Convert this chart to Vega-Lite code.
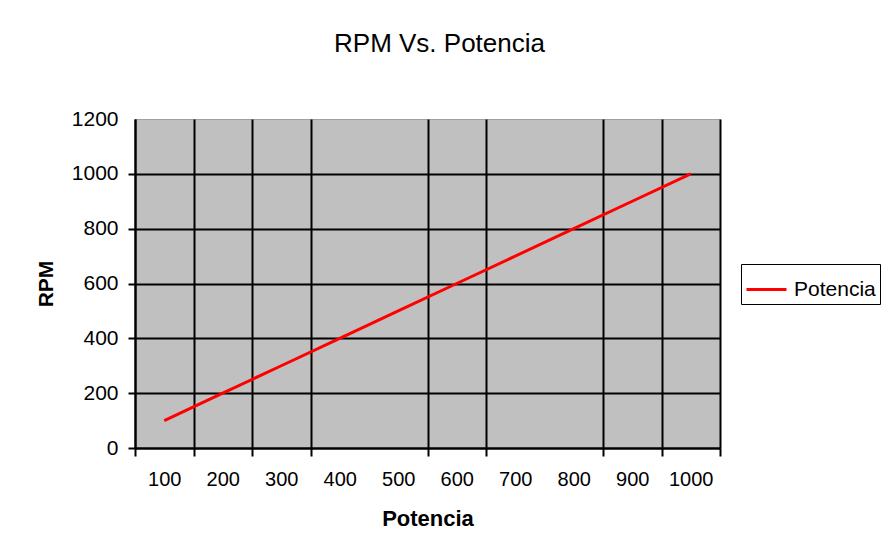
{
  "$schema": "https://vega.github.io/schema/vega-lite/v6.json",
  "autosize": {"type": "none"},
  "width": 585,
  "height": 329,
  "padding": {"left": 135, "top": 119, "right": 163, "bottom": 104},
  "background": "white",
  "title": {
    "text": "RPM Vs. Potencia",
    "font": "Liberation Sans",
    "fontSize": 26,
    "fontWeight": "normal",
    "color": "black",
    "anchor": "middle",
    "frame": "group",
    "offset": 51,
    "dx": 12
  },
  "data": {
    "values": [
      {"Potencia": 100, "RPM": 100, "serie": "Potencia"},
      {"Potencia": 200, "RPM": 200, "serie": "Potencia"},
      {"Potencia": 300, "RPM": 300, "serie": "Potencia"},
      {"Potencia": 400, "RPM": 400, "serie": "Potencia"},
      {"Potencia": 500, "RPM": 500, "serie": "Potencia"},
      {"Potencia": 600, "RPM": 600, "serie": "Potencia"},
      {"Potencia": 700, "RPM": 700, "serie": "Potencia"},
      {"Potencia": 800, "RPM": 800, "serie": "Potencia"},
      {"Potencia": 900, "RPM": 900, "serie": "Potencia"},
      {"Potencia": 1000, "RPM": 1000, "serie": "Potencia"}
    ]
  },
  "mark": {"type": "line", "strokeWidth": 3, "clip": false},
  "encoding": {
    "x": {
      "field": "Potencia",
      "type": "quantitative",
      "scale": {"domain": [50, 1050], "nice": false, "zero": false},
      "axis": {
        "values": [50, 100, 150, 200, 250, 300, 350, 400, 450, 500, 550, 600, 650, 700, 750, 800, 850, 900, 950, 1000, 1050],
        "format": "d",
        "labelExpr": "datum.value % 100 == 0 ? datum.label : ''",
        "labelOverlap": false,
        "labelFlush": false,
        "grid": true,
        "gridColor": "black",
        "gridWidth": 2,
        "gridOpacity": {"condition": {"test": "datum.value % 100 != 0 && datum.value != 450 && datum.value != 750", "value": 1}, "value": 0},
        "ticks": true,
        "tickColor": "black",
        "tickWidth": 2,
        "tickSize": 8,
        "tickOpacity": {"condition": {"test": "datum.value % 100 != 0 && datum.value != 450 && datum.value != 750", "value": 1}, "value": 0},
        "domainColor": "black",
        "domainWidth": 2,
        "labelFont": "Liberation Sans",
        "labelFontSize": 20,
        "labelColor": "black",
        "labelPadding": 13,
        "title": "Potencia",
        "titleFont": "Liberation Sans",
        "titleFontSize": 22,
        "titleFontWeight": "bold",
        "titleColor": "black",
        "titlePadding": 19
      }
    },
    "y": {
      "field": "RPM",
      "type": "quantitative",
      "scale": {"domain": [0, 1200], "nice": false},
      "axis": {
        "values": [0, 200, 400, 600, 800, 1000, 1200],
        "format": "d",
        "labelOverlap": false,
        "grid": true,
        "gridColor": "black",
        "gridWidth": 2,
        "gridOpacity": {"condition": {"test": "datum.value < 1200", "value": 1}, "value": 0},
        "tickColor": "black",
        "tickWidth": 2,
        "tickSize": 7,
        "tickOpacity": {"condition": {"test": "datum.value < 1200", "value": 1}, "value": 0},
        "domainColor": "black",
        "domainWidth": 2,
        "labelFont": "Liberation Sans",
        "labelFontSize": 21,
        "labelColor": "black",
        "labelPadding": 10,
        "title": "RPM",
        "titleFont": "Liberation Sans",
        "titleFontSize": 21,
        "titleFontWeight": "bold",
        "titleColor": "black",
        "titlePadding": 15
      }
    },
    "color": {
      "field": "serie",
      "type": "nominal",
      "scale": {"range": ["#FF0000"]},
      "legend": {
        "title": null,
        "orient": "none",
        "legendX": 606,
        "legendY": 145,
        "strokeColor": "black",
        "padding": 4,
        "symbolType": "stroke",
        "symbolSize": 1600,
        "symbolStrokeWidth": 3,
        "labelFont": "Liberation Sans",
        "labelFontSize": 21,
        "labelColor": "black",
        "labelOffset": 6
      }
    }
  },
  "config": {
    "view": {"fill": "#C0C0C0", "stroke": "#A0A0A0", "strokeWidth": 1},
    "font": "Liberation Sans"
  }
}
